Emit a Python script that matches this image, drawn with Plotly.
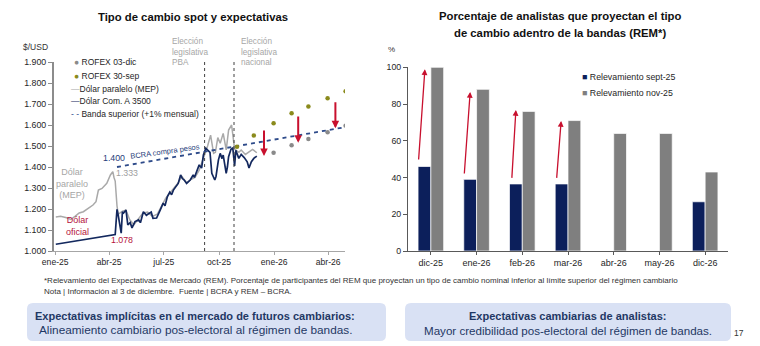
import plotly.graph_objects as go

W, H = 760, 346
FONT = "Liberation Sans, Arial, sans-serif"

# ---------------- Left chart data ----------------
oficial_fechas = ["2025-01-02", "2025-02-14", "2025-04-11", "2025-04-14", "2025-04-16", "2025-04-21",
                  "2025-04-23", "2025-04-25", "2025-04-29", "2025-05-02", "2025-05-06", "2025-05-09",
                  "2025-05-14", "2025-05-20", "2025-05-23", "2025-05-28", "2025-06-02", "2025-06-05",
                  "2025-06-10", "2025-06-13", "2025-06-19", "2025-06-25", "2025-06-30", "2025-07-03",
                  "2025-07-07", "2025-07-11", "2025-07-14", "2025-07-17", "2025-07-21", "2025-07-25",
                  "2025-07-29", "2025-08-01", "2025-08-04", "2025-08-08", "2025-08-14", "2025-08-19",
                  "2025-08-21", "2025-08-25", "2025-08-29", "2025-09-02", "2025-09-05", "2025-09-09",
                  "2025-09-12", "2025-09-16", "2025-09-19", "2025-09-24", "2025-09-26", "2025-09-30",
                  "2025-10-03", "2025-10-06", "2025-10-08", "2025-10-13", "2025-10-15", "2025-10-17",
                  "2025-10-21", "2025-10-24", "2025-10-27", "2025-10-29", "2025-11-03", "2025-11-07",
                  "2025-11-12", "2025-11-17", "2025-11-20", "2025-11-24", "2025-11-28", "2025-12-03"]
oficial_valores = [1032, 1053, 1078, 1198, 1171, 1085,
                   1187, 1181, 1195, 1124, 1135, 1110,
                   1140, 1148, 1135, 1187, 1170, 1176,
                   1185, 1156, 1157, 1195, 1228, 1215,
                   1259, 1280, 1268, 1290, 1306, 1322,
                   1362, 1345, 1338, 1322, 1338, 1362,
                   1350, 1378, 1410, 1395, 1457, 1489,
                   1481, 1470, 1370, 1338, 1355, 1433,
                   1465, 1440, 1457, 1370, 1400, 1449,
                   1484, 1490, 1405, 1480, 1441, 1460,
                   1445, 1425, 1395, 1425, 1441, 1452]

mep_fechas = ["2025-01-02", "2025-01-10", "2025-01-20", "2025-01-27", "2025-02-03", "2025-02-10",
              "2025-02-17", "2025-02-25", "2025-03-05", "2025-03-10", "2025-03-14", "2025-03-20",
              "2025-03-28", "2025-04-03", "2025-04-07", "2025-04-09", "2025-04-11", "2025-04-14",
              "2025-04-16", "2025-04-23", "2025-04-29", "2025-05-05", "2025-05-12", "2025-05-19",
              "2025-05-27", "2025-06-04", "2025-06-12", "2025-06-20", "2025-06-27", "2025-07-04",
              "2025-07-11", "2025-07-18", "2025-07-25", "2025-07-31", "2025-08-08", "2025-08-15",
              "2025-08-22", "2025-08-29", "2025-09-04", "2025-09-08", "2025-09-12", "2025-09-17",
              "2025-09-22", "2025-09-25", "2025-09-29", "2025-10-03", "2025-10-08", "2025-10-13",
              "2025-10-17", "2025-10-22", "2025-10-24", "2025-10-27", "2025-11-03", "2025-11-07",
              "2025-11-14", "2025-11-21", "2025-11-26", "2025-12-03"]
mep_valores = [1162, 1165, 1158, 1150, 1165, 1181,
               1187, 1205, 1219, 1235, 1290, 1298,
               1322, 1362, 1378, 1350, 1333, 1215,
               1175, 1190, 1195, 1150, 1125, 1150,
               1180, 1185, 1165, 1175, 1210, 1250,
               1275, 1300, 1325, 1355, 1325, 1340,
               1350, 1385, 1430, 1470, 1500, 1552,
               1465, 1470, 1540, 1513, 1560, 1481,
               1576, 1600, 1560, 1485, 1470, 1481,
               1460, 1473, 1484, 1468]

banda_fechas = ["2025-04-14", "2026-04-30"]
banda_valores = [1400, 1590]

rofex_dic_fechas = ["2025-12-31", "2026-01-30", "2026-02-27", "2026-03-31", "2026-04-30"]
rofex_dic_valores = [1468, 1503, 1533, 1565, 1597]

rofex_sep_fechas = ["2025-10-31", "2025-11-28", "2025-12-31", "2026-01-30", "2026-02-27",
                    "2026-03-31", "2026-04-30"]
rofex_sep_valores = [1497, 1550, 1608, 1656, 1688, 1727, 1761]

flecha_fechas = ["2025-12-15", "2026-02-10", "2026-04-13"]
flecha_desde = [1581, 1648, 1716]
flecha_hasta = [1452, 1516, 1584]

eleccion_fechas = ["2025-09-07", "2025-10-26"]

x_tick_vals = ["2025-01-01", "2025-04-01", "2025-07-01", "2025-10-01", "2026-01-01", "2026-04-01"]
x_tick_text = ["ene-25", "abr-25", "jul-25", "oct-25", "ene-26", "abr-26"]

# ---------------- Right chart data ----------------
meses = ["dic-25", "ene-26", "feb-26", "mar-26", "abr-26", "may-26", "dic-26"]
rel_sept = [46, 39, 36.5, 36.5, None, None, 26.8]
rel_nov = [100, 88, 76, 71, 64, 64, 43]

flecha2_idx_desde = [-0.27, 0.73, 1.77, 2.75]
flecha2_idx_hasta = [-0.13, 0.86, 1.86, 2.85]
flecha2_desde = [49, 41.4, 39, 39]
flecha2_hasta = [99, 86.6, 76.8, 70.8]

NAVY = "#13285e"
GRAY_MEP = "#a9a9a9"
BAND = "#2e4b8a"
ROFEX_DIC = "#8a8a8a"
ROFEX_SEP = "#8a8a1c"
RED = "#c8102e"
BAR_NAVY = "#0c1f5b"
BAR_GRAY = "#7f7f7f"


def px(x):
    return x / W


def py(y):
    return 1 - y / H


fig = go.Figure()

fig.add_trace(go.Scatter(x=mep_fechas, y=mep_valores, mode="lines",
                         line=dict(color=GRAY_MEP, width=1.5), name="Dólar paralelo (MEP)",
                         xaxis="x", yaxis="y"))
fig.add_trace(go.Scatter(x=oficial_fechas, y=oficial_valores, mode="lines",
                         line=dict(color=NAVY, width=1.7), name="Dólar Com. A 3500",
                         xaxis="x", yaxis="y"))
fig.add_trace(go.Scatter(x=banda_fechas, y=banda_valores, mode="lines",
                         line=dict(color=BAND, width=1.8, dash="4px,4px"),
                         name="Banda superior (+1% mensual)", xaxis="x", yaxis="y"))
fig.add_trace(go.Scatter(x=rofex_dic_fechas, y=rofex_dic_valores, mode="markers",
                         marker=dict(color=ROFEX_DIC, size=4.5), name="ROFEX 03-dic",
                         xaxis="x", yaxis="y"))
fig.add_trace(go.Scatter(x=rofex_sep_fechas, y=rofex_sep_valores, mode="markers",
                         marker=dict(color=ROFEX_SEP, size=4.5), name="ROFEX 30-sep",
                         xaxis="x", yaxis="y"))

fig.add_trace(go.Bar(x=meses, y=rel_sept, name="Relevamiento sept-25",
                     marker=dict(color=BAR_NAVY, line=dict(color="rgba(255,255,255,0.7)", width=1)),
                     xaxis="x2", yaxis="y2"))
fig.add_trace(go.Bar(x=meses, y=rel_nov, name="Relevamiento nov-25",
                     marker=dict(color=BAR_GRAY, line=dict(color="rgba(255,255,255,0.7)", width=1)),
                     xaxis="x2", yaxis="y2"))

annotations = []
shapes = []

# election dotted lines
for f in eleccion_fechas:
    shapes.append(dict(type="line", xref="x", yref="y", x0=f, x1=f, y0=1000, y1=1905,
                       line=dict(color="#404040", width=1, dash="dot")))

# red arrows (left)
for f, a, b in zip(flecha_fechas, flecha_desde, flecha_hasta):
    annotations.append(dict(xref="x", yref="y", axref="x", ayref="y", x=f, y=b, ax=f, ay=a,
                            text="", showarrow=True, arrowhead=2, arrowsize=0.75, arrowwidth=2,
                            arrowcolor=RED, standoff=0))

# red arrows (right)
for i0, i1, a, b in zip(flecha2_idx_desde, flecha2_idx_hasta, flecha2_desde, flecha2_hasta):
    annotations.append(dict(xref="x2", yref="y2", axref="x2", ayref="y2", x=i1, y=b, ax=i0, ay=a,
                            text="", showarrow=True, arrowhead=2, arrowsize=0.9, arrowwidth=1.3,
                            arrowcolor=RED, standoff=0))


def txt(x, y, s, size=10, color="#262626", xanchor="center", bold=False, angle=0):
    if bold:
        s = "<b>" + s + "</b>"
    annotations.append(dict(xref="paper", yref="paper", x=px(x), y=py(y), text=s, showarrow=False,
                            xanchor=xanchor, yanchor="middle", textangle=angle,
                            font=dict(size=size, color=color, family=FONT), align=xanchor))


# titles
txt(193, 17, "Tipo de cambio spot y expectativas", size=11.3, color="#111111", bold=True)
txt(560, 16, "Porcentaje de analistas que proyectan el tipo", size=11.3, color="#111111", bold=True)
txt(560, 33, "de cambio adentro de la bandas (REM*)", size=11.3, color="#111111", bold=True)

# axis unit labels
txt(35, 47, "$/USD", size=8.5, color="#333333")
txt(391, 50, "%", size=8, color="#333333")

# left legend
txt(72, 62, '<span style="color:%s">●</span> ROFEX 03-dic' % ROFEX_DIC, size=8.5, xanchor="left")
txt(72, 76, '<span style="color:%s">●</span> ROFEX 30-sep' % ROFEX_SEP, size=8.5, xanchor="left")
txt(69, 89, '<span style="color:%s">—</span>Dólar paralelo (MEP)' % GRAY_MEP, size=8.5, xanchor="left")
txt(69, 101, '<span style="color:%s">—</span>Dólar Com. A 3500' % NAVY, size=8.5, xanchor="left")
txt(69, 114, '<span style="color:%s">- -</span> Banda superior (+1%% mensual)' % BAND, size=8.5, xanchor="left")

# election labels
txt(170, 52, "Elección<br>legislativa<br>PBA", size=8.2, color="#a6a6a6", xanchor="left")
txt(239, 52, "Elección<br>legislativa<br>nacional", size=8.2, color="#a6a6a6", xanchor="left")

# in-chart labels
txt(114, 158, "1.400", size=8.8, color="#1f3d7a")
txt(165, 151, "BCRA compra pesos", size=7.5, color="#1f3d7a", angle=-8)
txt(127, 173, "1.333", size=8.8, color="#a0a0a0")
txt(72, 183, "Dólar<br>paralelo<br>(MEP)", size=9, color="#a6a6a6")
txt(77, 226, "Dólar<br>oficial", size=9, color="#b5123c")
txt(122, 240, "1.078", size=8.8, color="#b5123c")

# right legend
txt(580, 77, '<span style="color:%s">■</span> Relevamiento sept-25' % BAR_NAVY, size=8.8, xanchor="left")
txt(580, 93, '<span style="color:%s">■</span> Relevamiento nov-25' % BAR_GRAY, size=8.8, xanchor="left")

# footnotes
txt(42, 280, "*Relevamiento del Expectativas de Mercado (REM). Porcentaje de participantes del REM que proyectan un tipo de cambio nominal inferior al límite superior del régimen cambiario",
    size=8, color="#333333", xanchor="left")
txt(42, 291, "Nota | Información al 3 de diciembre.  Fuente | BCRA y REM – BCRA.", size=8,
    color="#333333", xanchor="left")


# bottom boxes
def rounded(x0, y0, x1, y1, r=6):
    X0, X1 = px(x0), px(x1)
    Y0, Y1 = py(y1), py(y0)  # bottom, top
    rx, ry = r / W, r / H
    return ("M %f,%f L %f,%f Q %f,%f %f,%f L %f,%f Q %f,%f %f,%f L %f,%f Q %f,%f %f,%f "
            "L %f,%f Q %f,%f %f,%f Z") % (
        X0 + rx, Y0, X1 - rx, Y0, X1, Y0, X1, Y0 + ry, X1, Y1 - ry, X1, Y1, X1 - rx, Y1,
        X0 + rx, Y1, X0, Y1, X0, Y1 - ry, X0, Y0 + ry, X0, Y0, X0 + rx, Y0)


BOX = "#d9e1f4"
shapes.append(dict(type="path", xref="paper", yref="paper", path=rounded(27, 303, 386, 341),
                   fillcolor=BOX, line=dict(width=0), layer="below"))
shapes.append(dict(type="path", xref="paper", yref="paper", path=rounded(405, 303, 731, 341),
                   fillcolor=BOX, line=dict(width=0), layer="below"))

BOXTXT = "#1f3864"
txt(195, 316, "Expectativas implícitas en el mercado de futuros cambiarios:", size=11, color=BOXTXT, bold=True)
txt(195, 330, "Alineamiento cambiario pos-electoral al régimen de bandas.", size=11.8, color=BOXTXT)
txt(568, 316, "Expectativas cambiarias de analistas:", size=11, color=BOXTXT, bold=True)
txt(568, 330, "Mayor credibilidad pos-electoral del régimen de bandas.", size=11.6, color=BOXTXT)
txt(739, 333, "17", size=8.5, color="#333333")

fig.update_layout(
    template="none",
    width=W, height=H, margin=dict(l=0, r=0, t=0, b=0, pad=0),
    paper_bgcolor="white", plot_bgcolor="white",
    showlegend=False, separators=",.",
    barmode="group", bargap=0.44, bargroupgap=0,
    font=dict(family=FONT, size=10, color="#262626"),
    xaxis=dict(domain=[px(54), px(345)], type="date", range=["2024-12-30", "2026-04-29"],
               tickvals=x_tick_vals, ticktext=x_tick_text, showgrid=False, zeroline=False,
               showline=True, linecolor="#a6a6a6", linewidth=1, ticks="outside", ticklen=3,
               tickcolor="#a6a6a6", tickfont=dict(size=8.6, color="#262626"), anchor="y",
               automargin=False),
    yaxis=dict(domain=[py(251), py(62)], range=[1000, 1900], dtick=100, tickformat=",d",
               showgrid=False, zeroline=False, showline=True, linecolor="#8c8c8c", linewidth=2,
               ticks="outside", ticklen=4, tickcolor="#8c8c8c",
               tickfont=dict(size=8.8, color="#262626"), anchor="x", automargin=False),
    xaxis2=dict(domain=[px(408), px(728)], type="category", range=[-0.5, 6.5], showgrid=False,
                zeroline=False, showline=True, linecolor="#595959", linewidth=1, ticks="outside",
                ticklen=3, tickcolor="#595959", tickfont=dict(size=9, color="#262626"), anchor="y2",
                automargin=False),
    yaxis2=dict(domain=[py(251), py(67.3)], range=[0, 100], dtick=20, showgrid=False,
                zeroline=False, showline=True, linecolor="#595959", linewidth=1, ticks="outside",
                ticklen=4, tickcolor="#595959", tickfont=dict(size=8.8, color="#262626"), anchor="x2",
                automargin=False),
    annotations=annotations, shapes=shapes,
)

fig.write_html("out.html")
